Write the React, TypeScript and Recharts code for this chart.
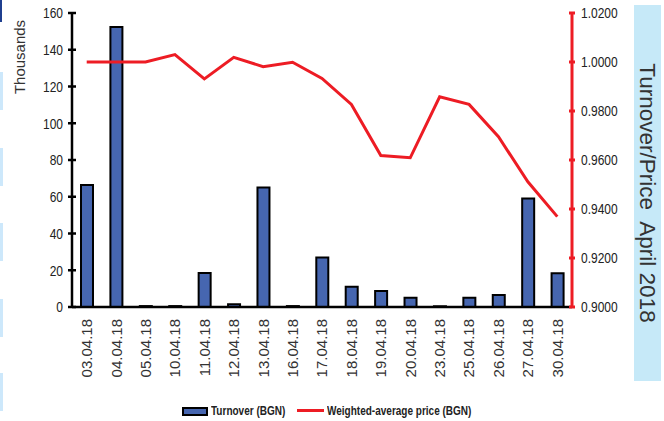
import React from "react";
import { ComposedChart, Bar, Line, XAxis, YAxis } from "recharts";

const dates = [
  "03.04.18", "04.04.18", "05.04.18", "10.04.18", "11.04.18", "12.04.18",
  "13.04.18", "16.04.18", "17.04.18", "18.04.18", "19.04.18", "20.04.18",
  "23.04.18", "25.04.18", "26.04.18", "27.04.18", "30.04.18",
];
// turnover in thousands BGN
const turnover = [
  66.4, 152.4, 0.5, 0.5, 18.5, 1.5, 65, 0.5, 27, 11, 8.7, 5, 0.4, 5, 6.5, 59, 18.3,
];
const price = [
  1.0, 1.0, 1.0, 1.003, 0.9931, 1.0019, 0.9981, 0.9999, 0.9933, 0.9827,
  0.9618, 0.9609, 0.9858, 0.9827, 0.9695, 0.9511, 0.9369,
];
const leftTicks = [0, 20, 40, 60, 80, 100, 120, 140, 160];
const rightTicks = [0.9, 0.92, 0.94, 0.96, 0.98, 1.0, 1.02];
const seriesNames = ["Turnover (BGN)", "Weighted-average price (BGN)"];
const panelTitle = "Turnover/Price  April 2018";

const data = dates.map((d, i) => ({ date: d, turnover: turnover[i], price: price[i] }));

const sans = "'Liberation Sans', Arial, sans-serif";

// the value labels are a condensed face: squeeze regular sans horizontally
const LeftTick = ({ x, y, payload }: any) => (
  <g>
    <line x1={x - 4} x2={x + 4} y1={y} y2={y} stroke="#000" strokeWidth={2.5} />
    <text
      transform={`translate(${x - 9}, ${y}) scale(0.8, 1)`}
      dy="0.36em"
      textAnchor="end"
      fontSize={15}
      fontFamily={sans}
      fill="#222"
    >
      {payload.value}
    </text>
  </g>
);

const RightTick = ({ x, y, payload }: any) => (
  <g>
    <line x1={x - 3} x2={x + 3} y1={y} y2={y} stroke="#ed1c24" strokeWidth={3} />
    <text
      transform={`translate(${x + 9}, ${y}) scale(0.8, 1)`}
      dy="0.36em"
      textAnchor="start"
      fontSize={15}
      fontFamily={sans}
      fill="#222"
    >
      {Number(payload.value).toFixed(4)}
    </text>
  </g>
);

const DateTick = ({ x, y, payload }: any) => (
  <text
    x={x}
    y={y + 12}
    dy="0.36em"
    textAnchor="end"
    transform={`rotate(-90, ${x}, ${y + 12})`}
    fontSize={15}
    fontFamily={sans}
    fill="#333"
  >
    {payload.value}
  </text>
);

const edgeBlocks = [72, 148, 223, 299, 373];

const legendText: React.CSSProperties = {
  position: "absolute",
  top: 403,
  fontFamily: sans,
  fontWeight: "bold",
  fontSize: 13,
  color: "#222",
  whiteSpace: "nowrap",
  transform: "scaleX(0.77)",
  transformOrigin: "left center",
};

export default function App() {
  return (
    <div style={{ position: "relative", width: 664, height: 421, background: "#fff" }}>
      <style>{"body{margin:0}"}</style>
      <div style={{ position: "absolute", left: 0, top: 0, width: 2, height: 22, background: "#1f3f8f" }} />
      {edgeBlocks.map((t) => (
        <div key={t} style={{ position: "absolute", left: 0, top: t, width: 3, height: 38, background: "#cde8fb" }} />
      ))}
      <div
        style={{
          position: "absolute",
          left: 634,
          top: 5,
          width: 27,
          height: 376,
          background: "#c6e9f8",
        }}
      />
      <div
        style={{
          position: "absolute",
          left: 647,
          top: 193,
          transform: "translate(-50%, -50%) rotate(90deg)",
          whiteSpace: "pre",
          fontFamily: sans,
          fontSize: 22.5,
          color: "#333",
        }}
      >
        {panelTitle}
      </div>
      <div
        style={{
          position: "absolute",
          left: 19,
          top: 57,
          transform: "translate(-50%, -50%) rotate(-90deg)",
          fontFamily: sans,
          fontSize: 15,
          color: "#333",
        }}
      >
        Thousands
      </div>
      <ComposedChart
        width={664}
        height={421}
        data={data}
        margin={{ top: 13, right: 0, bottom: 34, left: 0 }}
        style={{ position: "absolute", left: 0, top: 0 }}
      >
        <XAxis
          dataKey="date"
          interval={0}
          height={80}
          tickSize={0}
          tickMargin={0}
          tickLine={false}
          axisLine={{ stroke: "#000", strokeWidth: 2.5 }}
          tick={<DateTick />}
        />
        <YAxis
          yAxisId="left"
          orientation="left"
          width={72}
          domain={[0, 160]}
          ticks={leftTicks}
          tickSize={0}
          tickMargin={0}
          tickLine={false}
          axisLine={{ stroke: "#000", strokeWidth: 2.5 }}
          tick={<LeftTick />}
        />
        <YAxis
          yAxisId="right"
          orientation="right"
          width={92}
          domain={[0.9, 1.02]}
          ticks={rightTicks}
          tickSize={0}
          tickMargin={0}
          tickLine={false}
          axisLine={{ stroke: "#ed1c24", strokeWidth: 3 }}
          tick={<RightTick />}
        />
        <Bar
          yAxisId="left"
          dataKey="turnover"
          name={seriesNames[0]}
          barSize={12}
          fill="#4666b0"
          stroke="#000"
          strokeWidth={2}
          isAnimationActive={false}
        />
        <Line
          yAxisId="right"
          dataKey="price"
          name={seriesNames[1]}
          type="linear"
          stroke="#ed1c24"
          strokeWidth={3}
          dot={false}
          activeDot={false}
          isAnimationActive={false}
        />
      </ComposedChart>
      <div
        style={{
          position: "absolute",
          left: 182,
          top: 407,
          width: 22,
          height: 5,
          background: "#4666b0",
          border: "2px solid #000",
        }}
      />
      <div style={{ ...legendText, left: 211 }}>{seriesNames[0]}</div>
      <div style={{ position: "absolute", left: 297, top: 409, width: 27, height: 3, background: "#ed1c24" }} />
      <div style={{ ...legendText, left: 327 }}>{seriesNames[1]}</div>
    </div>
  );
}
